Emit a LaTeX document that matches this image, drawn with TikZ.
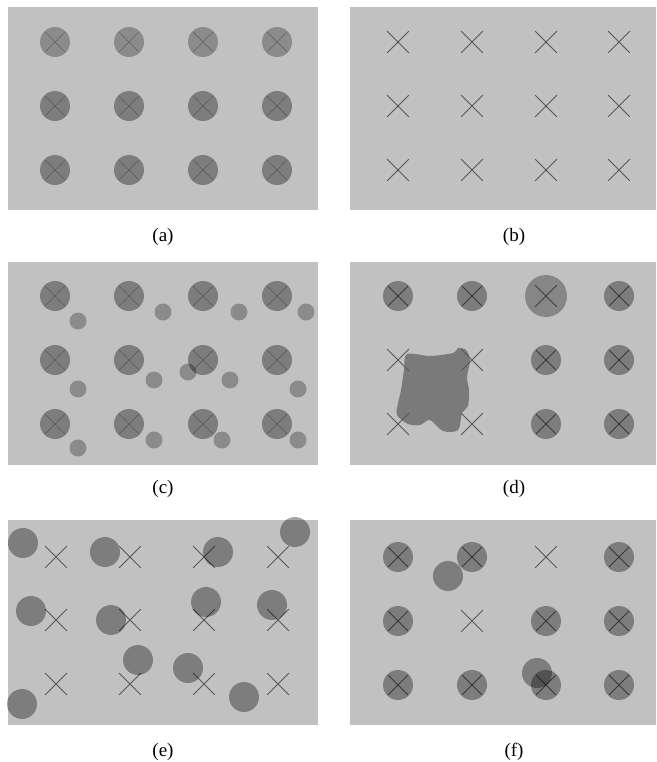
\documentclass[tikz,border=0pt]{standalone}
\usepackage{fontspec}
\setmainfont{Liberation Serif}
\usetikzlibrary{shapes.misc}
\definecolor{bg}{HTML}{C1C1C1}
\definecolor{xcol}{HTML}{575757}
\definecolor{xfaint}{HTML}{8A8A8A}
\definecolor{blobc}{HTML}{7A7A7A}
\tikzset{
  panel/.style={fill=bg, draw=none},
  dot/.style={circle, fill=black, fill opacity=0.35, draw=none, minimum size=30pt, inner sep=0pt},
  litedot/.style={dot, fill opacity=0.28},
  smalldot/.style={dot, fill opacity=0.28, minimum size=17pt},
  bigdot/.style={dot, fill opacity=0.30, minimum size=42pt},
  xmark/.style={cross out, draw=xcol, line width=0.8pt, minimum size=21pt, inner sep=0pt},
  xin/.style={xmark, minimum size=19pt},
  xsoft/.style={xin, draw=xfaint, line width=0.7pt},
  lab/.style={font=\fontsize{19}{21}\selectfont, inner sep=0pt}
}
\begin{document}
\begin{tikzpicture}[x=1pt,y=-1pt]
\useasboundingbox[fill=white] (0,0) rectangle (656,762);
% panels
\fill[panel] (7.5,7.5) rectangle (318,210);
\fill[panel] (350,7.5) rectangle (656,210);
\fill[panel] (7.5,262) rectangle (318,465);
\fill[panel] (350,262) rectangle (656,465);
\fill[panel] (7.5,520) rectangle (318,725);
\fill[panel] (350,520) rectangle (656,725);

% ---------------- (a)
\foreach \c [count=\i] in {55,129,203,277} {
  \node[xsoft] (ax\i1) at (\c,42) {};
  \node[litedot] (ad\i1) at (\c,42) {};
  \foreach \r [count=\j from 2] in {106,170} {
    \node[xsoft] (ax\i\j) at (\c,\r) {};
    \node[dot] (ad\i\j) at (\c,\r) {};
  }
}
\node[lab] (la) at (163,237) {(a)};

% ---------------- (b)
\foreach \c [count=\i] in {398,472,546,619} {
  \foreach \r [count=\j] in {42,106,170} {
    \node[xmark] (bx\i\j) at (\c,\r) {};
  }
}
\node[lab] (lb) at (514,237) {(b)};

% ---------------- (c)
\foreach \c [count=\i] in {55,129,203,277} {
  \foreach \r [count=\j] in {296,360,424} {
    \node[xsoft] (cx\i\j) at (\c,\r) {};
    \node[dot] (cd\i\j) at (\c,\r) {};
  }
}
\foreach \p [count=\k] in {(78,321),(163,312),(239,312),(306,312),
  (78,389),(154,380),(188,372),(230,380),(298,389),
  (78,448),(154,440),(222,440),(298,440)} {
  \node[smalldot] (cs\k) at \p {};
}
\node[lab] (lc) at (163,489) {(c)};

% ---------------- (d)
\fill[blobc] plot[smooth cycle, tension=0.5] coordinates {
  (407,354) (430,356) (453,353) (458,348) (466,350) (470,360)
  (467,377) (469,390) (468,406) (462,413) (458,430) (443,431)
  (430,420) (420,425) (408,424) (397,415) (398,403) (401,390) (404,370)};
% row 1
\node[xin] (dx11) at (398,296) {};
\node[dot] (dd11) at (398,296) {};
\node[xin] (dx21) at (472,296) {};
\node[dot] (dd21) at (472,296) {};
\node[xmark] (dx31) at (546,296) {};
\node[bigdot] (dd31) at (546,296) {};
\node[xin] (dx41) at (619,296) {};
\node[dot] (dd41) at (619,296) {};
% rows 2,3
\foreach \r [count=\j from 2] in {360,424} {
  \node[xmark] (dx1\j) at (398,\r) {};
  \node[xmark] (dx2\j) at (472,\r) {};
  \node[xin] (dx3\j) at (546,\r) {};
  \node[dot] (dd3\j) at (546,\r) {};
  \node[xin] (dx4\j) at (619,\r) {};
  \node[dot] (dd4\j) at (619,\r) {};
}
\node[lab] (ld) at (514,489) {(d)};

% ---------------- (e)
\foreach \c [count=\i] in {56,130,204,278} {
  \foreach \r [count=\j] in {557,620,684} {
    \node[xmark] (ex\i\j) at (\c,\r) {};
  }
}
\foreach \p [count=\k] in {(23,543),(105,552),(218,552),(295,532),
  (31,611),(111,620),(206,602),(272,605),
  (138,660),(188,668),(244,697),(22,704)} {
  \node[dot] (ed\k) at \p {};
}
\node[lab] (le) at (163,752) {(e)};

% ---------------- (f)
% row 1
\node[xin] (fx11) at (398,557) {};
\node[dot] (fd11) at (398,557) {};
\node[xin] (fx21) at (472,557) {};
\node[dot] (fd21) at (472,557) {};
\node[xmark] (fx31) at (546,557) {};
\node[xin] (fx41) at (619,557) {};
\node[dot] (fd41) at (619,557) {};
\node[dot] (fe1) at (448,576) {};
% row 2
\node[xin] (fx12) at (398,621) {};
\node[dot] (fd12) at (398,621) {};
\node[xmark] (fx22) at (472,621) {};
\node[xin] (fx32) at (546,621) {};
\node[dot] (fd32) at (546,621) {};
\node[xin] (fx42) at (619,621) {};
\node[dot] (fd42) at (619,621) {};
% row 3
\foreach \c [count=\i] in {398,472,546,619} {
  \node[xin] (fx\i3) at (\c,685) {};
  \node[dot] (fd\i3) at (\c,685) {};
}
\node[dot] (fe2) at (537,673) {};
\node[lab] (lf) at (514,752) {(f)};
\end{tikzpicture}
\end{document}
